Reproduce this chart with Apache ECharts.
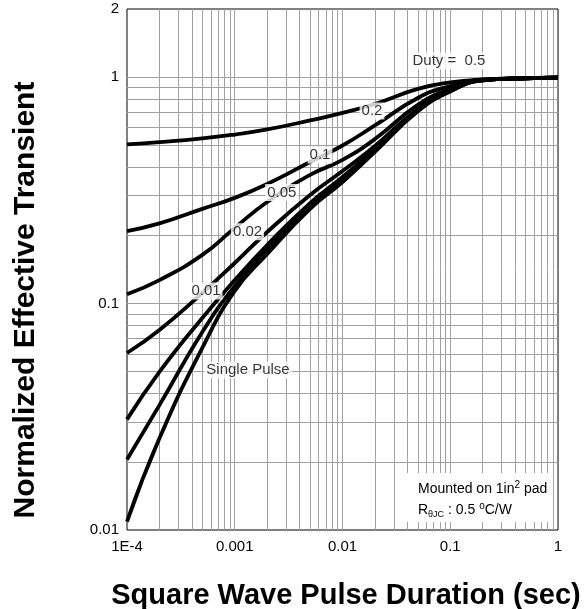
<!DOCTYPE html>
<html>
<head>
<meta charset="utf-8">
<script src="https://cdn.jsdelivr.net/npm/echarts@6/dist/echarts.min.js"></script>
<style>html,body{margin:0;padding:0;background:#fff}#c{width:584px;height:609px}</style>
</head>
<body>
<div id="c"></div>
<script>
// ---- data ----
const pulseTimes = [1e-4, 2e-4, 5e-4, 1e-3, 2e-3, 5e-3, 1e-2, 2e-2, 5e-2, 0.1, 0.2, 0.5, 1];
const curveA = [0.505, 0.516, 0.536, 0.558, 0.5875, 0.644, 0.695, 0.761, 0.887, 0.9475, 0.977, 0.989, 0.997];
const curveB = [0.209, 0.226, 0.262, 0.293, 0.3375, 0.422, 0.499, 0.612, 0.809, 0.914, 0.975, 0.990, 0.995];
const curveC = [0.110, 0.127, 0.164, 0.216, 0.281, 0.370, 0.431, 0.533, 0.754, 0.887, 0.972, 0.989, 0.995];
const curveD = [0.0605, 0.0764, 0.1114, 0.1511, 0.2071, 0.3017, 0.3851, 0.4968, 0.7236, 0.878, 0.970, 0.989, 0.995];
const curveE = [0.0308, 0.0499, 0.0864, 0.127, 0.1815, 0.278, 0.362, 0.482, 0.716, 0.869, 0.969, 0.989, 0.995];
const curveF = [0.0205, 0.0356, 0.0749, 0.1196, 0.1743, 0.271, 0.355, 0.477, 0.709, 0.867, 0.968, 0.989, 0.995];
const singlePulse = [0.0109, 0.0254, 0.0637, 0.1137, 0.1656, 0.262, 0.344, 0.4675, 0.706, 0.865, 0.967, 0.989, 0.995];
const curveNames = ['D0.5', 'D0.2', 'D0.1', 'D0.05', 'D0.02', 'D0.01', 'Single'];
const xTickLabels = ['1E-4', '0.001', '0.01', '0.1', '1'];
const yTickLabels = ['0.01', '0.1', '1', '2'];
const labelTexts = ['Duty =  0.5', '0.2', '0.1', '0.05', '0.02', '0.01', 'Single Pulse'];
const labelTimes = [0.0973, 0.0188, 0.00618, 0.00273, 0.001313, 0.000541, 0.001327];
const labelValues = [1.179, 0.709, 0.453, 0.3096, 0.2077, 0.1137, 0.0509];
const xTitle = 'Square Wave Pulse Duration (sec)';
const yTitle = 'Normalized Effective Transient';

// ---- chart ----
const FONT = '"Liberation Sans", Arial, sans-serif';
const chart = echarts.init(document.getElementById('c'));
const allCurves = [curveA, curveB, curveC, curveD, curveE, curveF, singlePulse];
const X_MIN = 1e-4, X_MAX = 1, Y_MIN = 0.01, Y_MAX = 2;

// log grid lines (2..9 within each decade, plus decades)
const gridSegs = [];
[1e-4, 1e-3, 1e-2, 1e-1].forEach(d => {
  for (let m = 1; m <= 9; m++) {
    if (d === 1e-4 && m === 1) continue;
    const v = +(d * m).toPrecision(3);
    gridSegs.push({ coords: [[v, Y_MIN], [v, Y_MAX]] });
  }
});
[0.01, 0.1].forEach(d => {
  for (let m = 1; m <= 9; m++) {
    if (d === 0.01 && m === 1) continue;
    const v = +(d * m).toPrecision(3);
    gridSegs.push({ coords: [[X_MIN, v], [X_MAX, v]] });
  }
});
gridSegs.push({ coords: [[X_MIN, 1], [X_MAX, 1]] });

const series = [];
series.push({
  type: 'lines', coordinateSystem: 'cartesian2d', silent: true, z: 1, animation: false,
  polyline: false, effect: { show: false },
  lineStyle: { color: '#a0a0a0', width: 1, type: 'solid', opacity: 1 },
  data: gridSegs
});
allCurves.forEach((vals, i) => {
  series.push({
    name: curveNames[i], type: 'line', z: 3,
    data: pulseTimes.map((t, k) => [t, vals[k]]),
    showSymbol: false, smooth: 0.5,
    lineStyle: { color: '#000', width: 3.8 },
    emphasis: { disabled: true }, animation: false
  });
});
series.push({
  type: 'scatter', z: 10, silent: true, animation: false,
  symbolSize: 1, itemStyle: { color: 'rgba(0,0,0,0)' },
  data: labelTexts.map((s, i) => [labelTimes[i], labelValues[i], s]),
  label: {
    show: true, position: 'inside', formatter: p => p.value[2],
    color: '#000', fontFamily: FONT, fontSize: 15,
    backgroundColor: '#fff', padding: [1, 2]
  },
  emphasis: { disabled: true }
});

const option = {
  animation: false,
  backgroundColor: '#fff',
  grid: { left: 127, right: 26, top: 9, bottom: 79, show: true, borderColor: '#000', borderWidth: 1, backgroundColor: 'rgba(0,0,0,0)' },
  xAxis: {
    type: 'log', logBase: 10, min: X_MIN, max: X_MAX, splitNumber: 4,
    axisLine: { show: false }, axisTick: { show: false }, splitLine: { show: false },
    axisLabel: {
      color: '#000', fontFamily: FONT, fontSize: 15, margin: 9,
      formatter: v => xTickLabels[Math.round(Math.log10(v)) + 4]
    }
  },
  yAxis: {
    type: 'log', logBase: 10, min: Y_MIN, max: Y_MAX,
    axisLine: { show: false }, axisTick: { show: false }, splitLine: { show: false },
    axisLabel: {
      color: '#000', fontFamily: FONT, fontSize: 15, margin: 8, showMaxLabel: true,
      formatter: v => (v > 1.5 ? yTickLabels[3] : yTickLabels[Math.round(Math.log10(v)) + 2])
    }
  },
  series: series,
  graphic: [
    { type: 'text', x: 346, y: 596, z: 20,
      style: { text: xTitle, font: 'bold 29px ' + FONT, fill: '#000', textAlign: 'center', textVerticalAlign: 'middle' } },
    { type: 'text', x: 26, y: 300, rotation: Math.PI / 2, z: 20,
      style: { text: yTitle, font: 'bold 30px ' + FONT, fill: '#000', textAlign: 'center', textVerticalAlign: 'middle' } },
    { type: 'rect', shape: { x: 407, y: 473, width: 146, height: 49 }, style: { fill: '#fff' }, z: 20 },
    { type: 'text', x: 418, y: 489, z: 21,
      style: {
        text: '{a|Mounted on 1in}{s|2}{a| pad}', textVerticalAlign: 'middle',
        rich: { a: { fontSize: 14, fontFamily: FONT, fill: '#000', lineHeight: 18 },
                s: { fontSize: 10, fontFamily: FONT, fill: '#000', lineHeight: 18, verticalAlign: 'top' } }
      } },
    { type: 'text', x: 418, y: 510, z: 21,
      style: {
        text: '{a|R}{b|θJC}{a| : 0.5 }{s|o}{a|C/W}', textVerticalAlign: 'middle',
        rich: { a: { fontSize: 14, fontFamily: FONT, fill: '#000', lineHeight: 18 },
                b: { fontSize: 9, fontFamily: FONT, fill: '#000', lineHeight: 18, verticalAlign: 'bottom' },
                s: { fontSize: 10, fontFamily: FONT, fill: '#000', lineHeight: 18, verticalAlign: 'top' } }
      } }
  ]
};
chart.setOption(option);
</script>
</body>
</html>
